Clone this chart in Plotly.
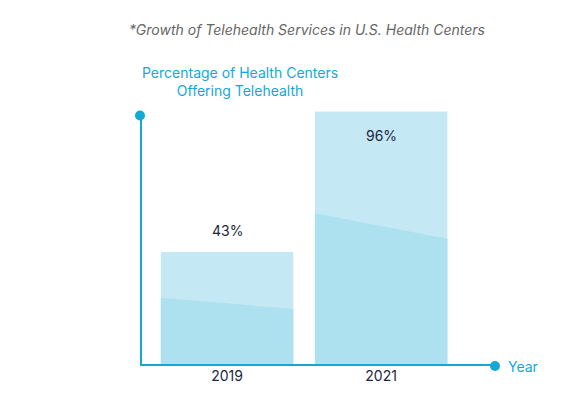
import plotly.graph_objects as go

years = ["2019", "2021"]
values = [43, 96]
labels = ["43%", "96%"]

pos = [0, 1]
width = 0.86
axis_col = "#14a8d6"

fig = go.Figure()
fig.add_trace(go.Bar(x=pos, y=values, width=width, marker_color="#c4e9f4",
                     marker_line_width=0, showlegend=False, hoverinfo="skip"))

# darker lower shading inside each bar
for p, v in zip(pos, values):
    x0, x1 = p - width / 2, p + width / 2
    fig.add_trace(go.Scatter(x=[x0, x0, x1, x1, x0], y=[0, v * 0.6, v * 0.5, 0, 0],
                             fill="toself", fillcolor="#ade1f0", mode="none",
                             showlegend=False, hoverinfo="skip"))

for p, v, t in zip(pos, values, labels):
    fig.add_annotation(x=p, y=v, text=t, showarrow=False,
                       yshift=22 if v < 50 else -24,
                       font=dict(size=14, color="#1d2640"))

# axes with end dots
fig.add_trace(go.Scatter(x=[-0.565, -0.565, 1.739], y=[94.5, 0, 0], mode="lines",
                         line=dict(color=axis_col, width=4), showlegend=False,
                         hoverinfo="skip", cliponaxis=False))
fig.add_trace(go.Scatter(x=[-0.565, 1.739], y=[94.5, 0], mode="markers",
                         marker=dict(color=axis_col, size=10), showlegend=False,
                         hoverinfo="skip", cliponaxis=False))

fig.add_annotation(xref="paper", yref="paper", x=0, y=1.072, yanchor="middle",
                   text="Percentage of Health Centers<br>Offering Telehealth",
                   showarrow=False, align="center",
                   font=dict(size=14, color=axis_col))
fig.add_annotation(xref="paper", yref="y", x=1.03, y=0, xanchor="left",
                   text="Year", showarrow=False, font=dict(size=14, color=axis_col))
fig.add_annotation(xref="paper", yref="paper", x=0.47, xanchor="center",
                   y=1.268, yanchor="middle",
                   text="<i>*Growth of Telehealth Services in U.S. Health Centers</i>",
                   showarrow=False, font=dict(size=14, color="#666666"))

fig.update_layout(
    width=562, height=401,
    margin=dict(l=132, r=75, t=93, b=43, autoexpand=False),
    plot_bgcolor="white", paper_bgcolor="white",
    font=dict(family="Inter, Roboto, sans-serif"),
    xaxis=dict(range=[-0.565, 1.739], tickvals=pos, ticktext=years,
               showgrid=False, zeroline=False, showline=False,
               tickfont=dict(size=14, color="#1d2640")),
    yaxis=dict(range=[0, 100], showgrid=False, zeroline=False,
               showticklabels=False, showline=False),
)

fig.write_html("out.html")
